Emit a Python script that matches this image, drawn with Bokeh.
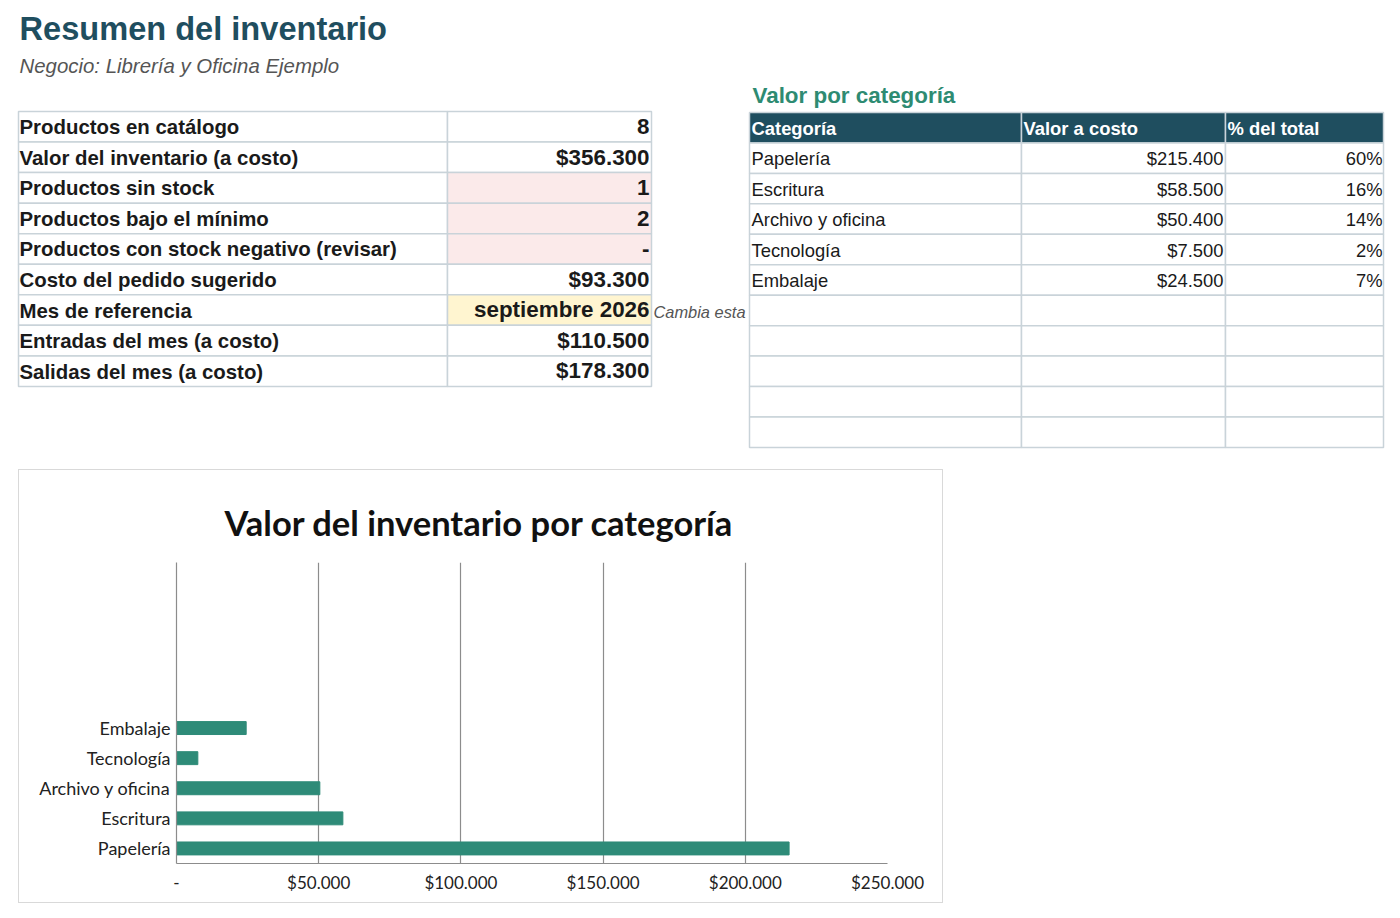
from bokeh.plotting import figure
from bokeh.models import Range1d, FixedTicker, Spacer
from bokeh.layouts import column, row
from bokeh.core.properties import value
from bokeh.embed import file_html
from bokeh.resources import INLINE

# datos de la hoja
titulo = "Resumen del inventario"
negocio = "Negocio: Librería y Oficina Ejemplo"

indicadores = ["Productos en catálogo", "Valor del inventario (a costo)", "Productos sin stock",
               "Productos bajo el mínimo", "Productos con stock negativo (revisar)",
               "Costo del pedido sugerido", "Mes de referencia", "Entradas del mes (a costo)",
               "Salidas del mes (a costo)"]
valores_ind = ["8", "$356.300", "1", "2", "-", "$93.300", "septiembre 2026", "$110.500", "$178.300"]
nota_mes = "Cambia esta"

titulo_cat = "Valor por categoría"
encabezados = ["Categoría", "Valor a costo", "% del total"]
categorias = ["Papelería", "Escritura", "Archivo y oficina", "Tecnología", "Embalaje"]
valor_costo = [215400, 58500, 50400, 7500, 24500]
filas_vacias = 5

titulo_graf = "Valor del inventario por categoría"
ticks_x = [0, 50000, 100000, 150000, 200000, 250000]


def pesos(v):
    return "$" + f"{v:,}".replace(",", ".")


total = sum(valor_costo)
porcentajes = [f"{round(100 * v / total)}%" for v in valor_costo]

FUENTE = value("Liberation Sans")
BORDE = "#c9d3d9"
ROSA = "#fbeaea"
AMARILLO = "#fff5d0"
resaltes = {2: ROSA, 3: ROSA, 4: ROSA, 6: AMARILLO}


def base(y, size):
    # el svg baja el texto alfabetico ~0.38em, se compensa
    if isinstance(y, list):
        return [v - 0.38 * size for v in y]
    return y - 0.38 * size


# ---- parte superior: titulos y tablas ----
hoja = figure(width=1392, height=469, x_range=Range1d(0, 1392), y_range=Range1d(469, 0),
              output_backend="svg", toolbar_location=None, min_border=0,
              x_axis_location=None, y_axis_location=None)
hoja.grid.visible = False
hoja.outline_line_color = None

hoja.text(x=[19], y=[base(40, 32.6)], text=[titulo], text_font=FUENTE, text_font_size="32.6px",
          text_font_style="bold", text_color="#1f4e5f", text_baseline="alphabetic")
hoja.text(x=[19], y=[base(73, 20.4)], text=[negocio], text_font=FUENTE, text_font_size="20.4px",
          text_font_style="italic", text_color="#555555", text_baseline="alphabetic")

# tabla de indicadores
cols_izq = [18, 447, 651]
top_izq = 111
alto = 30.55
tops = [top_izq + i * alto for i in range(len(indicadores))]
bots = [t + alto for t in tops]
hoja.quad(left=cols_izq[0], right=cols_izq[1], top=tops, bottom=bots,
          fill_color="white", line_color=BORDE, line_width=1.5)
hoja.quad(left=cols_izq[1], right=cols_izq[2], top=tops, bottom=bots,
          fill_color=[resaltes.get(i, "white") for i in range(len(tops))],
          line_color=BORDE, line_width=1.5)
hoja.text(x=cols_izq[0] + 1, y=base([b - 7 for b in bots], 20.4), text=indicadores, text_font=FUENTE,
          text_font_size="20.4px", text_font_style="bold", text_color="#1a1a1a",
          text_baseline="alphabetic")
hoja.text(x=cols_izq[2] - 2, y=base([b - 7 for b in bots], 22.4), text=valores_ind, text_font=FUENTE,
          text_font_size="22.4px", text_font_style="bold", text_color="#1a1a1a",
          text_baseline="alphabetic", text_align="right")
hoja.text(x=[cols_izq[2] + 2], y=[base(bots[6] - 7, 16.4)], text=[nota_mes], text_font=FUENTE,
          text_font_size="16.4px", text_font_style="italic", text_color="#555555",
          text_baseline="alphabetic")

# tabla por categoria
cols_der = [749, 1021, 1225, 1383]
top_der = 112
alto_d = 30.45
n_filas = 1 + len(categorias) + filas_vacias
tops_d = [top_der + i * alto_d for i in range(n_filas)]
bots_d = [t + alto_d for t in tops_d]
for j in range(3):
    hoja.quad(left=cols_der[j], right=cols_der[j + 1], top=tops_d, bottom=bots_d,
              fill_color=["#1f4e5f"] + ["white"] * (n_filas - 1),
              line_color=BORDE, line_width=1.5)

hoja.text(x=[752], y=[base(104, 22.4)], text=[titulo_cat], text_font=FUENTE, text_font_size="22.4px",
          text_font_style="bold", text_color="#2e8b72", text_baseline="alphabetic")
hoja.text(x=[c + 2 for c in cols_der[:3]], y=base(bots_d[0] - 7, 18.4), text=encabezados,
          text_font=FUENTE, text_font_size="18.4px", text_font_style="bold", text_color="white",
          text_baseline="alphabetic")
filas_y = base([b - 7.5 for b in bots_d[1:1 + len(categorias)]], 18.4)
hoja.text(x=cols_der[0] + 2, y=filas_y, text=categorias, text_font=FUENTE,
          text_font_size="18.4px", text_color="#1a1a1a", text_baseline="alphabetic")
hoja.text(x=cols_der[2] - 2, y=filas_y, text=[pesos(v) for v in valor_costo], text_font=FUENTE,
          text_font_size="18.4px", text_color="#1a1a1a", text_baseline="alphabetic",
          text_align="right")
hoja.text(x=cols_der[3] - 1, y=filas_y, text=porcentajes, text_font=FUENTE,
          text_font_size="18.4px", text_color="#1a1a1a", text_baseline="alphabetic",
          text_align="right")

# ---- grafico de barras ----
n_slots = len(categorias) + filas_vacias
grafico = figure(width=925, height=434, x_range=Range1d(0, ticks_x[-1]), y_range=Range1d(0, n_slots),
                 output_backend="svg", toolbar_location=None,
                 min_border_left=157, min_border_right=57, min_border_top=92, min_border_bottom=41)
grafico.styles = {"border": "1px solid #d9d9d9"}
grafico.outline_line_color = None
grafico.title.text = titulo_graf
grafico.title.align = "left"
grafico.title.offset = 48
grafico.title.standoff = 40
grafico.title.text_font = "Lato"
grafico.title.text_font_size = "34.5px"
grafico.title.text_font_style = "bold"
grafico.title.text_color = "#111111"

pos_y = [i + 0.5 for i in range(len(categorias))]
grafico.hbar(y=pos_y, left=0, right=valor_costo, height=0.43, color="#2e8b78")

grafico.ygrid.visible = False
grafico.xgrid.ticker = FixedTicker(ticks=ticks_x)
grafico.xgrid.grid_line_color = "#8c8c8c"
grafico.xgrid.grid_line_width = 1.2

grafico.xaxis.ticker = FixedTicker(ticks=ticks_x)
grafico.xaxis.major_label_overrides = {t: ("-" if t == 0 else pesos(t)) for t in ticks_x}
grafico.yaxis.ticker = FixedTicker(ticks=pos_y)
grafico.yaxis.major_label_overrides = {p: c for p, c in zip(pos_y, categorias)}
for ax in (grafico.xaxis, grafico.yaxis):
    ax.major_tick_line_color = None
    ax.minor_tick_line_color = None
    ax.axis_line_color = "#8c8c8c"
    ax.axis_line_width = 1.2
    ax.major_label_text_font = "Lato"
    ax.major_label_text_color = "#222222"
grafico.xaxis.major_label_text_font_size = "17px"
grafico.yaxis.major_label_text_font_size = "18px"
grafico.xaxis.major_label_standoff = 2
grafico.yaxis.major_label_standoff = 0

p = column(hoja, row(Spacer(width=18), grafico))

open("out.html", "w").write(file_html(p, INLINE))
